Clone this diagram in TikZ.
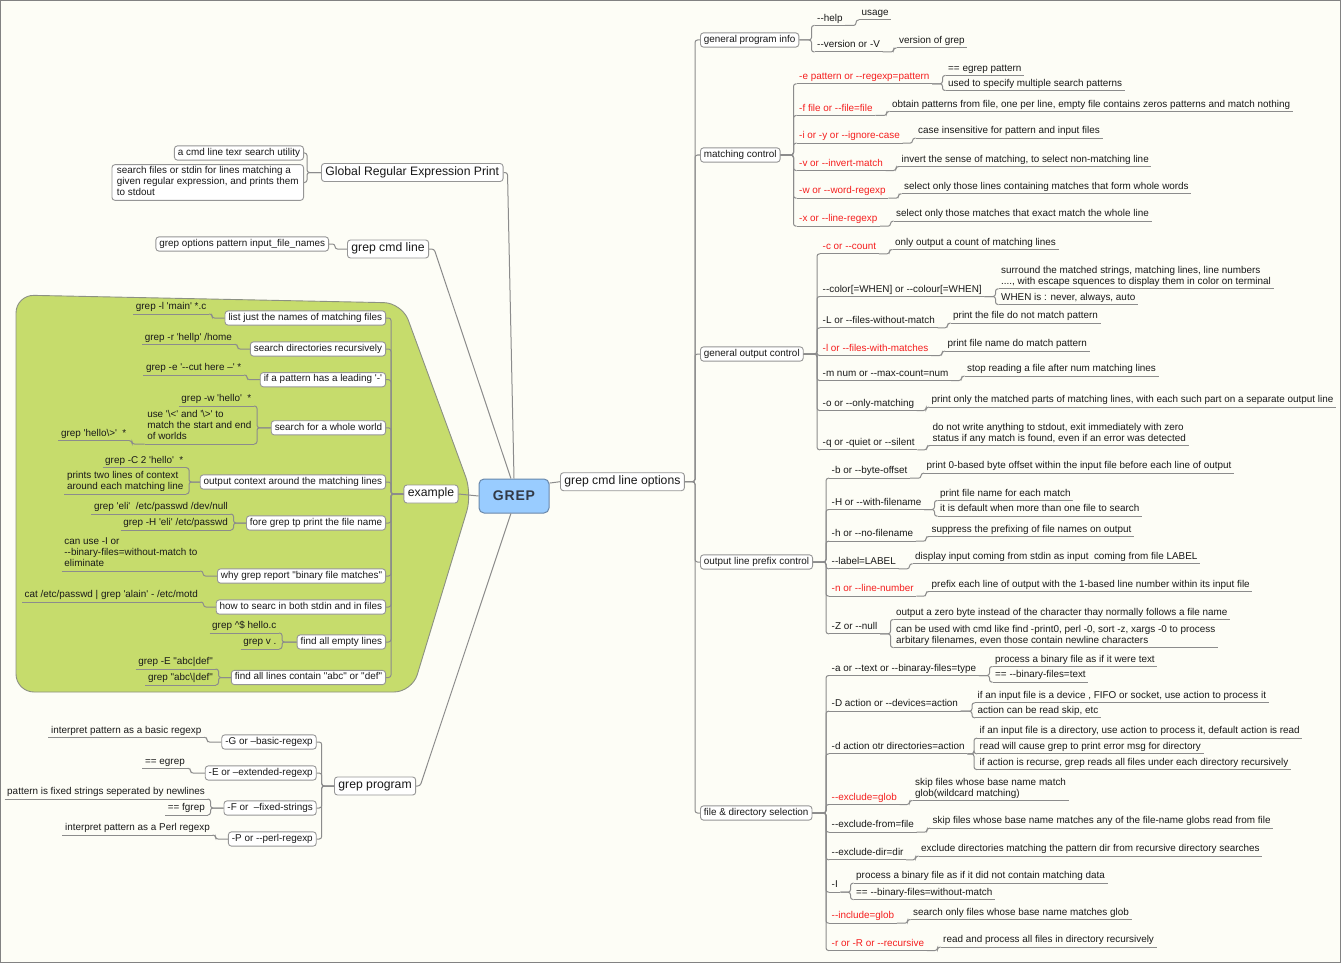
\documentclass[tikz,border=0pt]{standalone}
\usepackage{fontspec}
\setmainfont{Liberation Sans}[Ligatures=TeXOff]
\definecolor{bgc}{RGB}{253,253,246}
\definecolor{framec}{RGB}{130,130,130}
\definecolor{lc}{RGB}{140,140,140}
\definecolor{bc}{RGB}{150,150,150}
\definecolor{txc}{RGB}{25,25,25}
\definecolor{rtx}{RGB}{245,30,30}
\definecolor{blobf}{RGB}{198,220,108}
\definecolor{blobd}{RGB}{140,145,130}
\definecolor{rootf}{RGB}{153,204,255}
\definecolor{rootd}{RGB}{105,135,170}
\definecolor{roott}{RGB}{50,58,70}
\tikzset{
  conn/.style={draw=lc, line width=1pt, rounded corners=2.5pt},
  sm/.style={font=\fontsize{9.9}{11}\selectfont, text=txc},
  ulR/.style={sm, anchor=south west, inner xsep=2.5pt, inner ysep=0.8pt, align=left,
    execute at end node=\strut,
    append after command={(\tikzlastnode.south west) edge[conn] (\tikzlastnode.south east)}},
  ulL/.style={ulR, anchor=south east},
  rt/.style={text=rtx},
  bx/.style={sm, draw=bc, fill=white, rounded corners=3pt, line width=0.9pt,
    inner xsep=3.5pt, inner ysep=1.6pt, execute at end node=\strut},
  mainbox/.style={bx, font=\fontsize{12.2}{14}\selectfont, inner xsep=4pt, inner ysep=2pt},
  rootbox/.style={draw=rootd, fill=rootf, line width=1pt, rounded corners=5pt,
    minimum width=70pt, minimum height=34pt, inner sep=0pt, text=roott,
    font=\bfseries\fontsize{14}{15}\selectfont},
}
\newcommand\lnkR[3][3pt]{\draw[conn] (#2) -| ([xshift=-#1]#3) -- (#3);}
\newcommand\lnkL[3][3pt]{\draw[conn] (#2) -| ([xshift=#1]#3) -- (#3);}
\begin{document}
\begin{tikzpicture}[x=1pt,y=-1pt]
\useasboundingbox (0,0) rectangle (1341,963);
\fill[bgc] (0,0) rectangle (1341,963);
\draw[framec, line width=1.2pt] (0.6,0.6) rectangle (1340.4,962.4);

% green area
\filldraw[fill=blobf, draw=blobd, line width=0.9pt, rounded corners=18pt]
  (16,295) -- (402,303) -- (472,494) -- (412,692) -- (16,692) -- cycle;

% root and main topics
\node[rootbox] (grep) at (514,496) {G\kern0.8pt R\kern0.8pt E\kern0.8pt P};
\node[mainbox, anchor=west] (opts) at (560,481.7) {grep cmd line options};
\node[mainbox, anchor=west] (gre) at (321,172.5) {Global Regular Expression Print};
\node[mainbox, anchor=west] (gcl) at (347,249) {grep cmd line};
\node[mainbox] (ex) at (431,494) {example};
\node[mainbox, anchor=west] (gp) at (334,786) {grep program};

\draw[conn] (grep.20) -- (opts.west);
\draw[conn] (grep.west) -- (ex.east);
\draw[conn] (gre.east) -- ++(4,0) -- (grep.north);
\draw[conn] (gcl.east) -- ++(5,0) -- (grep.100);
\draw[conn] (gp.east) -- ++(4,0) -- (grep.260);

% Global Regular Expression Print
\node[bx, anchor=east] (g1) at (304,153) {a cmd line texr search utility};
\node[bx, anchor=east, align=left, inner xsep=5pt] (g2) at (304,182.5) {search files or stdin for lines matching a\\given regular expression, and prints them\\to stdout};
\lnkL{gre.west}{g1.east}
\lnkL{gre.west}{g2.east}

% grep cmd line
\node[bx, anchor=east] (c1) at (329,244) {grep options pattern input\_file\_names};
\lnkL[6pt]{gcl.west}{c1.east}

% example
\node[bx, anchor=east] (e1) at (386,318) {list just the names of matching files};
\node[bx, anchor=east] (e2) at (386,349) {search directories recursively};
\node[bx, anchor=east] (e3) at (386,379.7) {if a pattern has a leading '-'};
\node[bx, anchor=east] (e4) at (386,427.8) {search for a whole world};
\node[bx, anchor=east] (e5) at (386,482) {output context around the matching lines};
\node[bx, anchor=east] (e6) at (386,523) {fore grep tp print the file name};
\node[bx, anchor=east] (e7) at (386,576) {why grep report "binary file matches"};
\node[bx, anchor=east] (e8) at (386,607) {how to searc in both stdin and in files};
\node[bx, anchor=east] (e9) at (386,642) {find all empty lines};
\node[bx, anchor=east] (e10) at (386,677.5) {find all lines contain "abc" or "def"};
\foreach \n in {e1,e2,e3,e4,e5,e6,e7,e8,e9,e10} {\lnkL[5pt]{ex.west}{\n.east}}

\node[ulL] (e1a) at (209,314) {grep -l 'main' *.c};
\node[ulL] (e2a) at (234.5,344.3) {grep -r 'hellp' /home};
\node[ulL] (e3a) at (244,375) {grep -e '--cut here –' *};
\node[ulL] (e4a) at (254,406) {grep -w 'hello'~ *};
\node[ulL] (e4b) at (254,444) {use '\textbackslash<' and '\textbackslash>' to\\match the start and end\\of worlds};
\node[ulL] (e4c) at (129,440.7) {grep 'hello\textbackslash>'~ *};
\node[ulL] (e5a) at (186,467.7) {grep -C 2 'hello'~ *};
\node[ulL] (e5b) at (186,494) {prints two lines of context\\around each matching line};
\node[ulL] (e6a) at (230.5,514) {grep 'eli'~ /etc/passwd /dev/null};
\node[ulL] (e6b) at (230.5,530) {grep -H 'eli' /etc/passwd};
\node[ulL] (e7a) at (200,571) {can use -I or\\--binary-files=without-match to\\eliminate};
\node[ulL] (e8a) at (200.5,602) {cat /etc/passwd | grep 'alain' - /etc/motd};
\node[ulL] (e9a) at (279,633) {grep \textasciicircum\$ hello.c};
\node[ulL] (e9b) at (279,649) {grep v .};
\node[ulL] (e10a) at (215.5,669) {grep -E "abc|def"};
\node[ulL] (e10b) at (215.5,685) {grep "abc\textbackslash|def"};
\lnkL{e1.west}{e1a.south east}
\lnkL{e2.west}{e2a.south east}
\lnkL{e3.west}{e3a.south east}
\lnkL{e4.west}{e4a.south east}
\lnkL{e4.west}{e4b.south east}
\lnkL{e4b.south west}{e4c.south east}
\lnkL{e5.west}{e5a.south east}
\lnkL{e5.west}{e5b.south east}
\lnkL{e6.west}{e6a.south east}
\lnkL{e6.west}{e6b.south east}
\lnkL{e7.west}{e7a.south east}
\lnkL{e8.west}{e8a.south east}
\lnkL{e9.west}{e9a.south east}
\lnkL{e9.west}{e9b.south east}
\lnkL{e10.west}{e10a.south east}
\lnkL{e10.west}{e10b.south east}

% grep program
\node[bx, anchor=east] (p1) at (316.7,742) {-G or –basic-regexp};
\node[bx, anchor=east] (p2) at (316.7,773) {-E or –extended-regexp};
\node[bx, anchor=east] (p3) at (316.7,808) {-F or~ –fixed-strings};
\node[bx, anchor=east] (p4) at (316.7,839) {-P or --perl-regexp};
\foreach \n in {p1,p2,p3,p4} {\lnkL[5pt]{gp.west}{\n.east}}
\node[ulL] (p1a) at (204,737.3) {interpret pattern as a basic regexp};
\node[ulL] (p2a) at (187.5,768.3) {== egrep};
\node[ulL] (p3a) at (207.5,799) {pattern is fixed strings seperated by newlines};
\node[ulL] (p3b) at (207.5,815) {== fgrep};
\node[ulL] (p4a) at (212.5,835) {interpret pattern as a Perl regexp};
\lnkL{p1.west}{p1a.south east}
\lnkL{p2.west}{p2a.south east}
\lnkL{p3.west}{p3a.south east}
\lnkL{p3.west}{p3b.south east}
\lnkL{p4.west}{p4a.south east}

% right side main boxes
\node[bx, anchor=west] (r1) at (700,40) {general program info};
\node[bx, anchor=west] (r2) at (700,155) {matching control};
\node[bx, anchor=west] (r3) at (700,354) {general output control};
\node[bx, anchor=west] (r4) at (700,562) {output line prefix control};
\node[bx, anchor=west] (r5) at (700,813) {file \& directory selection};
\foreach \n in {r1,r2,r3,r4,r5} {\lnkR[5pt]{opts.east}{\n.west}}

% general program info
\node[ulR] (r1a) at (814.5,25.5) {--help};
\node[ulR] (r1a1) at (859,20) {usage};
\node[ulR] (r1b) at (814.5,52) {--version or -V};
\node[ulR] (r1b1) at (896.5,48) {version of grep};
\lnkR{r1.east}{r1a.south west}
\lnkR{r1.east}{r1b.south west}
\lnkR{r1a.south east}{r1a1.south west}
\lnkR{r1b.south east}{r1b1.south west}

% matching control
\node[ulR,rt] (r2a) at (796.5,83.8) {-e pattern or --regexp=pattern};
\node[ulR] (r2a1) at (945.5,75.5) {== egrep pattern};
\node[ulR] (r2a2) at (945.5,90.5) {used to specify multiple search patterns};
\node[ulR,rt] (r2b) at (796.5,115.5) {-f file or --file=file};
\node[ulR] (r2b1) at (889.5,111.5) {obtain patterns from file, one per line, empty file contains zeros patterns and match nothing};
\node[ulR,rt] (r2c) at (796.5,143.2) {-i or -y or --ignore-case};
\node[ulR] (r2c1) at (915.5,138.2) {case insensitive for pattern and input files};
\node[ulR,rt] (r2d) at (796.5,170.5) {-v or --invert-match};
\node[ulR] (r2d1) at (899,166.5) {invert the sense of matching, to select non-matching line};
\node[ulR,rt] (r2e) at (796.5,198.2) {-w or --word-regexp};
\node[ulR] (r2e1) at (901.5,193.8) {select only those lines containing matches that form whole words};
\node[ulR,rt] (r2f) at (796.5,226.2) {-x or --line-regexp};
\node[ulR] (r2f1) at (893.5,221.2) {select only those matches that exact match the whole line};
\foreach \n in {r2a,r2b,r2c,r2d,r2e,r2f} {\lnkR{r2.east}{\n.south west}}
\lnkR{r2a.south east}{r2a1.south west}
\lnkR{r2a.south east}{r2a2.south west}
\lnkR{r2b.south east}{r2b1.south west}
\lnkR{r2c.south east}{r2c1.south west}
\lnkR{r2d.south east}{r2d1.south west}
\lnkR{r2e.south east}{r2e1.south west}
\lnkR{r2f.south east}{r2f1.south west}

% general output control
\node[ulR,rt] (r3a) at (820,253.8) {-c or --count};
\node[ulR] (r3a1) at (892.5,249.5) {only output a count of matching lines};
\node[ulR] (r3b) at (820,296.5) {--color[=WHEN] or --colour[=WHEN]};
\node[ulR] (r3b1) at (998.5,288.8) {surround the matched strings, matching lines, line numbers\\...., with escape squences to display them in color on terminal};
\node[ulR] (r3b2) at (998.5,304.5) {WHEN is : never, always, auto};
\node[ulR] (r3c) at (820,327.8) {-L or --files-without-match};
\node[ulR] (r3c1) at (950.5,323.2) {print the file do not match pattern};
\node[ulR,rt] (r3d) at (820,355.5) {-l or --files-with-matches};
\node[ulR] (r3d1) at (945,351.2) {print file name do match pattern};
\node[ulR] (r3e) at (820,380.5) {-m num or --max-count=num};
\node[ulR] (r3e1) at (964.5,376.2) {stop reading a file after num matching lines};
\node[ulR] (r3f) at (820,410.5) {-o or --only-matching};
\node[ulR] (r3f1) at (929,407.2) {print only the matched parts of matching lines, with each such part on a separate output line};
\node[ulR] (r3g) at (820,449.8) {-q or -quiet or --silent};
\node[ulR] (r3g1) at (930,445.5) {do not write anything to stdout, exit immediately with zero\\status if any match is found, even if an error was detected};
\foreach \n in {r3a,r3b,r3c,r3d,r3e,r3f,r3g} {\lnkR{r3.east}{\n.south west}}
\lnkR{r3a.south east}{r3a1.south west}
\lnkR{r3b.south east}{r3b1.south west}
\lnkR{r3b.south east}{r3b2.south west}
\lnkR{r3c.south east}{r3c1.south west}
\lnkR{r3d.south east}{r3d1.south west}
\lnkR{r3e.south east}{r3e1.south west}
\lnkR{r3f.south east}{r3f1.south west}
\lnkR{r3g.south east}{r3g1.south west}

% output line prefix control
\node[ulR] (r4a) at (829,478.2) {-b or --byte-offset};
\node[ulR] (r4a1) at (924,473.2) {print 0-based byte offset within the input file before each line of output};
\node[ulR] (r4b) at (829,509.5) {-H or --with-filename};
\node[ulR] (r4b1) at (937.5,500.5) {print file name for each match};
\node[ulR] (r4b2) at (937.5,516.2) {it is default when more than one file to search};
\node[ulR] (r4c) at (829,541.2) {-h or --no-filename};
\node[ulR] (r4c1) at (929,536.5) {suppress the prefixing of file names on output};
\node[ulR] (r4d) at (829,568.8) {--label=LABEL};
\node[ulR] (r4d1) at (912.5,563.8) {display input coming from stdin as input~ coming from file LABEL};
\node[ulR,rt] (r4e) at (829,596.2) {-n or --line-number};
\node[ulR] (r4e1) at (929,591.5) {prefix each line of output with the 1-based line number within its input file};
\node[ulR] (r4f) at (829,633.8) {-Z or --null};
\node[ulR] (r4f1) at (893.5,619.5) {output a zero byte instead of the character thay normally follows a file name};
\node[ulR] (r4f2) at (893.5,647.5) {can be used with cmd like find -print0, perl -0, sort -z, xargs -0 to process\\arbitary filenames, even those contain newline characters};
\foreach \n in {r4a,r4b,r4c,r4d,r4e,r4f} {\lnkR{r4.east}{\n.south west}}
\lnkR{r4a.south east}{r4a1.south west}
\lnkR{r4b.south east}{r4b1.south west}
\lnkR{r4b.south east}{r4b2.south west}
\lnkR{r4c.south east}{r4c1.south west}
\lnkR{r4d.south east}{r4d1.south west}
\lnkR{r4e.south east}{r4e1.south west}
\lnkR{r4f.south east}{r4f1.south west}
\lnkR{r4f.south east}{r4f2.south west}

% file & directory selection
\node[ulR] (r5a) at (829,675.5) {-a or --text or --binaray-files=type};
\node[ulR] (r5a1) at (992.5,666.5) {process a binary file as if it were text};
\node[ulR] (r5a2) at (992.5,682.2) {== --binary-files=text};
\node[ulR] (r5b) at (829,711.2) {-D action or --devices=action};
\node[ulR] (r5b1) at (975,702.8) {if an input file is a device , FIFO or socket, use action to process it};
\node[ulR] (r5b2) at (975,717.8) {action can be read skip, etc};
\node[ulR] (r5c) at (829,753.8) {-d action otr directories=action};
\node[ulR] (r5c1) at (977,738.2) {if an input file is a directory, use action to process it, default action is read};
\node[ulR] (r5c2) at (977,753.8) {read will cause grep to print error msg for directory};
\node[ulR] (r5c3) at (977,769.5) {if action is recurse, grep reads all files under each directory recursively};
\node[ulR,rt] (r5d) at (829,804.5) {--exclude=glob};
\node[ulR] (r5d1) at (912.5,800.5) {skip files whose base name match\\glob(wildcard matching)};
\node[ulR] (r5e) at (829,832.2) {--exclude-from=file};
\node[ulR] (r5e1) at (930,828.2) {skip files whose base name matches any of the file-name globs read from file};
\node[ulR] (r5f) at (829,859.8) {--exclude-dir=dir};
\node[ulR] (r5f1) at (918.5,856.2) {exclude directories matching the pattern dir from recursive directory searches};
\node[ulR] (r5g) at (829,892.2) {-I};
\node[ulR] (r5g1) at (853.5,883.2) {process a binary file as if it did not contain matching data};
\node[ulR] (r5g2) at (853.5,899.5) {== --binary-files=without-match};
\node[ulR,rt] (r5h) at (829,923.2) {--include=glob};
\node[ulR] (r5h1) at (910.5,919.5) {search only files whose base name matches glob};
\node[ulR,rt] (r5i) at (829,950.5) {-r or -R or --recursive};
\node[ulR] (r5i1) at (940.5,947.2) {read and process all files in directory recursively};
\foreach \n in {r5a,r5b,r5c,r5d,r5e,r5f,r5g,r5h,r5i} {\lnkR{r5.east}{\n.south west}}
\lnkR{r5a.south east}{r5a1.south west}
\lnkR{r5a.south east}{r5a2.south west}
\lnkR{r5b.south east}{r5b1.south west}
\lnkR{r5b.south east}{r5b2.south west}
\lnkR{r5c.south east}{r5c1.south west}
\lnkR{r5c.south east}{r5c2.south west}
\lnkR{r5c.south east}{r5c3.south west}
\lnkR{r5d.south east}{r5d1.south west}
\lnkR{r5e.south east}{r5e1.south west}
\lnkR{r5f.south east}{r5f1.south west}
\lnkR{r5g.south east}{r5g1.south west}
\lnkR{r5g.south east}{r5g2.south west}
\lnkR{r5h.south east}{r5h1.south west}
\lnkR{r5i.south east}{r5i1.south west}
\end{tikzpicture}
\end{document}
